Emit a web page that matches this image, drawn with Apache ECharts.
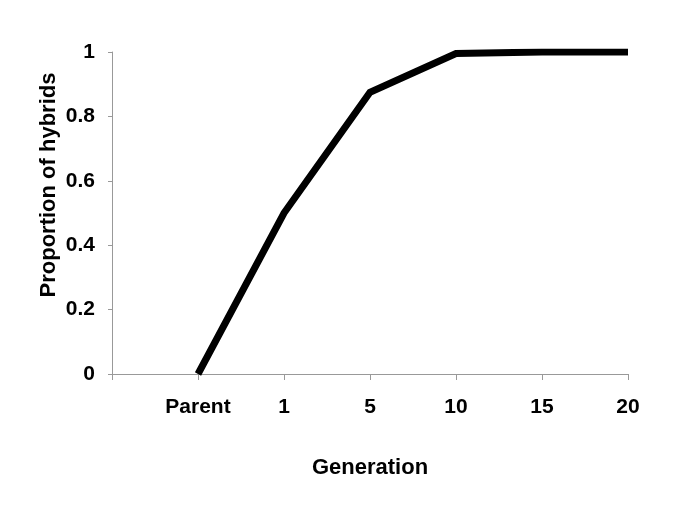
<!DOCTYPE html>
<html>
<head>
<meta charset="utf-8">
<script src="https://cdn.jsdelivr.net/npm/echarts@6/dist/echarts.min.js"></script>
<style>html,body{margin:0;padding:0;background:#fff}#c{width:685px;height:508px}</style>
</head>
<body>
<div id="c"></div>
<script>
var categories = ["", "Parent", "1", "5", "10", "15", "20"];
var hybrids = [null, 0, 0.5, 0.875, 0.995, 1, 1];
var yTicks = [0, 0.2, 0.4, 0.6, 0.8, 1];

var chart = echarts.init(document.getElementById('c'));
var font = 'Liberation Sans, Arial, sans-serif';
chart.setOption({
  animation: false,
  backgroundColor: '#fff',
  grid: {left: 112, right: 57, top: 52, bottom: 134, containLabel: false},
  xAxis: {
    type: 'category',
    data: categories,
    boundaryGap: false,
    name: 'Generation',
    nameLocation: 'middle',
    nameGap: 83,
    nameMoveOverlap: false,
    nameTextStyle: {fontFamily: font, fontWeight: 'bold', fontSize: 22, color: '#000'},
    axisLine: {lineStyle: {color: '#999', width: 1}},
    axisTick: {show: true, length: 6, lineStyle: {color: '#999'}},
    axisLabel: {interval: 0, margin: 23, fontFamily: font, fontWeight: 'bold', fontSize: 21, color: '#000'},
    splitLine: {show: false}
  },
  yAxis: {
    type: 'value',
    min: yTicks[0],
    max: yTicks[yTicks.length - 1],
    interval: 0.2,
    name: 'Proportion of hybrids',
    nameLocation: 'middle',
    nameGap: 52,
    nameMoveOverlap: false,
    nameTextStyle: {fontFamily: font, fontWeight: 'bold', fontSize: 22, color: '#000', padding: [0, 0, 0, 56]},
    axisLine: {show: true, lineStyle: {color: '#999', width: 1}},
    axisTick: {show: true, length: 4, lineStyle: {color: '#999'}},
    axisLabel: {margin: 17, fontFamily: font, fontWeight: 'bold', fontSize: 21, color: '#000',
      formatter: function (v) { return String(Math.round(v * 10) / 10); }},
    splitLine: {show: false}
  },
  series: [{
    type: 'line',
    data: hybrids,
    symbol: 'none',
    connectNulls: false,
    lineStyle: {color: '#000', width: 7, cap: 'butt', join: 'miter'}
  }]
});
</script>
</body>
</html>
